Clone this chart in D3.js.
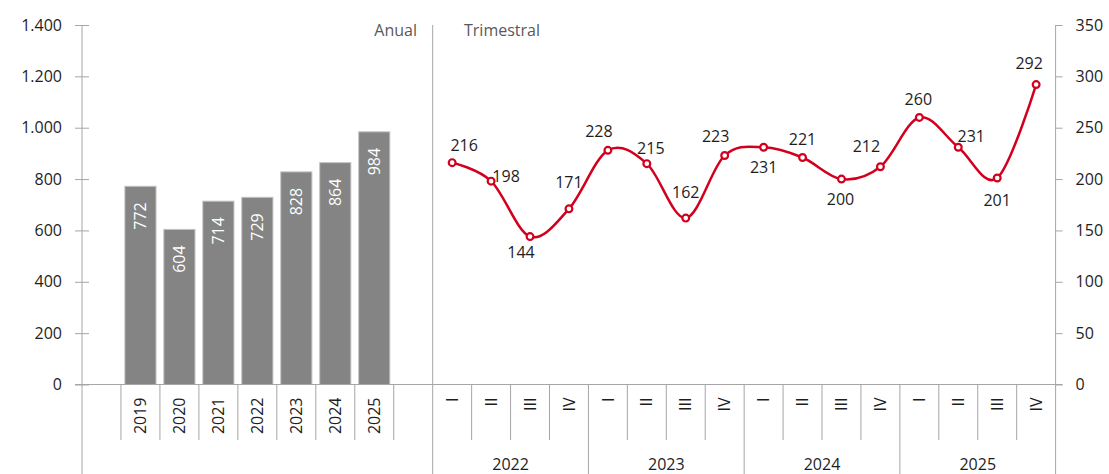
<!DOCTYPE html>
<html>
<head>
<meta charset="utf-8">
<script src="https://cdn.jsdelivr.net/npm/d3@7"></script>
<style>
  html, body { margin: 0; padding: 0; background: #fff; }
  svg text { font-family: "Open Sans", "Noto Sans", sans-serif; }
</style>
</head>
<body>
<svg id="chart" width="1109" height="474"></svg>
<script>
// ---- data ----
const years = ["2019", "2020", "2021", "2022", "2023", "2024", "2025"];
const annualValues = [772, 604, 714, 729, 828, 864, 984];
const quarterYears = ["2022", "2023", "2024", "2025"];
const quarterNames = ["I", "II", "III", "IV"];
const quarterlyValues = [216, 198, 144, 171, 228, 215, 162, 223, 231, 221, 200, 212, 260, 231, 201, 292];
const leftTicks = [0, 200, 400, 600, 800, 1000, 1200, 1400];
const rightTicks = [0, 50, 100, 150, 200, 250, 300, 350];
const sectionTitles = ["Anual", "Trimestral"];

// ---- layout (label nudges, px) ----
const labelOffsets = [
  [12, -17], [15, -5], [-9, 16], [0, -26], [-9, -19], [4, -15], [0, -26], [-9, -19],
  [0, 20], [0, -18], [-1, 20], [-14, -20], [-1, -18], [13, -11], [0, 22], [-7, -21]
];

const svg = d3.select("#chart");
const axisColor = "#a6a6a6";
const textColor = "#1e1e1e";
const red = "#d2001e";

const xLeft = 82, xDiv = 432.7, xRight = 1055.6;
const yTop = 25, yBase = 384.5, yBottom = 474;

const yL = d3.scaleLinear().domain([0, 1400]).range([yBase, yTop]);
const yR = d3.scaleLinear().domain([0, 350]).range([yBase, yTop]);

const xYear = d3.scaleBand().domain(years).range([xLeft, xDiv]).paddingInner(0).paddingOuter(1);
const qKeys = [];
quarterYears.forEach(y => quarterNames.forEach(q => qKeys.push(y + "-" + q)));
const xQ = d3.scaleBand().domain(qKeys).range([xDiv, xRight]).padding(0);
const xQY = d3.scaleBand().domain(quarterYears).range([xDiv, xRight]).padding(0);

const fmtL = v => d3.format(",")(v).replace(/,/g, ".");

// ---- bars ----
const bw = xYear.bandwidth() * 0.8;
const bars = svg.append("g");
bars.selectAll("rect").data(years).join("rect")
  .attr("x", d => xYear(d) + (xYear.bandwidth() - bw) / 2)
  .attr("y", (d, i) => yL(annualValues[i]))
  .attr("width", bw)
  .attr("height", (d, i) => yBase - yL(annualValues[i]))
  .attr("fill", "#848484")
  .attr("stroke", "#c4c4c4")
  .attr("stroke-width", 1);

bars.selectAll("text").data(years).join("text")
  .attr("transform", (d, i) => `translate(${xYear(d) + xYear.bandwidth() / 2},${yL(annualValues[i]) + 16}) rotate(-90)`)
  .attr("text-anchor", "end")
  .attr("dy", "0.35em")
  .attr("fill", "#ffffff")
  .attr("font-size", 16)
  .text((d, i) => annualValues[i]);

// ---- axes ----
const g = svg.append("g").attr("stroke", axisColor).attr("stroke-width", 1).attr("fill", "none");
g.append("line").attr("x1", xLeft).attr("x2", xLeft).attr("y1", yTop).attr("y2", yBottom);
g.append("line").attr("x1", xDiv).attr("x2", xDiv).attr("y1", yTop).attr("y2", yBottom);
g.append("line").attr("x1", xRight).attr("x2", xRight).attr("y1", yTop).attr("y2", yBottom);
g.append("line").attr("x1", xLeft - 7).attr("x2", xRight + 7).attr("y1", yBase).attr("y2", yBase);

const axL = svg.append("g").attr("transform", `translate(${xLeft},0)`)
  .call(d3.axisLeft(yL).tickValues(leftTicks).tickSize(7).tickPadding(13).tickFormat(fmtL));
axL.select(".domain").remove();
axL.selectAll(".tick line").attr("x1", -7).attr("x2", 7).attr("stroke", axisColor);
axL.selectAll(".tick text").attr("font-size", 16).attr("fill", textColor)
  .style("font-family", '"Open Sans", sans-serif');

const axR = svg.append("g").attr("transform", `translate(${xRight},0)`)
  .call(d3.axisRight(yR).tickValues(rightTicks).tickSize(7).tickPadding(13));
axR.select(".domain").remove();
axR.selectAll(".tick line").attr("stroke", axisColor);
axR.selectAll(".tick text").attr("font-size", 16).attr("fill", textColor)
  .style("font-family", '"Open Sans", sans-serif');

// left category boundaries
g.selectAll(".lb").data([xYear(years[0])].concat(years.map(d => xYear(d) + xYear.step())))
  .join("line").attr("class", "lb")
  .attr("x1", d => d).attr("x2", d => d).attr("y1", yBase).attr("y2", 440);

// quarter boundaries
g.selectAll(".qb").data(qKeys.filter((k, i) => i % 4 !== 0))
  .join("line").attr("class", "qb")
  .attr("x1", d => xQ(d)).attr("x2", d => xQ(d)).attr("y1", yBase).attr("y2", 440);
g.selectAll(".yb").data(quarterYears.slice(1))
  .join("line").attr("class", "yb")
  .attr("x1", d => xQY(d)).attr("x2", d => xQY(d)).attr("y1", yBase).attr("y2", yBottom);

// left category labels
svg.append("g").selectAll("text").data(years).join("text")
  .attr("transform", d => `translate(${xYear(d) + xYear.bandwidth() / 2},${yBase + 13}) rotate(-90)`)
  .attr("text-anchor", "end").attr("dy", "0.35em")
  .attr("font-size", 16).attr("fill", textColor)
  .text(d => d);

// quarter labels
svg.append("g").selectAll("text").data(qKeys).join("text")
  .attr("transform", d => `translate(${xQ(d) + xQ.bandwidth() / 2},${yBase + 13}) rotate(-90)`)
  .attr("text-anchor", "end").attr("dy", "0.35em")
  .attr("font-size", 16).attr("fill", textColor)
  .text(d => d.split("-")[1]);

// quarter year labels
svg.append("g").selectAll("text").data(quarterYears).join("text")
  .attr("x", d => xQY(d) + xQY.bandwidth() / 2).attr("y", 470)
  .attr("text-anchor", "middle").attr("font-size", 16).attr("fill", textColor)
  .text(d => d);

// section titles
svg.append("text").attr("x", 417).attr("y", 30).attr("dy", "0.35em")
  .attr("text-anchor", "end").attr("font-size", 16).attr("fill", "#595959").text(sectionTitles[0]);
svg.append("text").attr("x", 464).attr("y", 30).attr("dy", "0.35em")
  .attr("text-anchor", "start").attr("font-size", 16).attr("fill", "#595959").text(sectionTitles[1]);

// ---- line ----
const pts = qKeys.map((k, i) => [xQ(k) + xQ.bandwidth() / 2, yR(quarterlyValues[i])]);
svg.append("path")
  .attr("d", d3.line().curve(d3.curveCardinal.tension(0))(pts))
  .attr("fill", "none").attr("stroke", red).attr("stroke-width", 2.5);

svg.append("g").selectAll("circle").data(pts).join("circle")
  .attr("cx", d => d[0]).attr("cy", d => d[1]).attr("r", 3.4)
  .attr("fill", "#fff").attr("stroke", red).attr("stroke-width", 2.2);

svg.append("g").selectAll("text").data(pts).join("text")
  .attr("x", (d, i) => d[0] + labelOffsets[i][0])
  .attr("y", (d, i) => d[1] + labelOffsets[i][1])
  .attr("dy", "0.35em").attr("text-anchor", "middle")
  .attr("font-size", 16).attr("fill", textColor)
  .text((d, i) => quarterlyValues[i]);
</script>
</body>
</html>
